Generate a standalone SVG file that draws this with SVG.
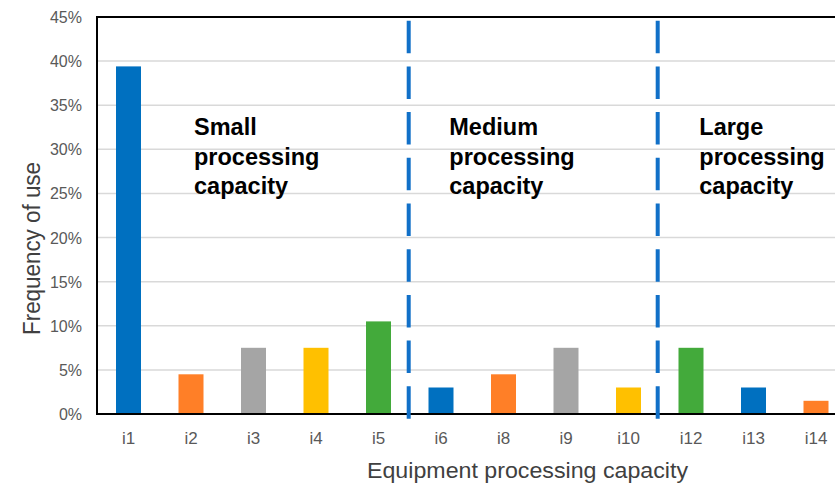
<svg xmlns="http://www.w3.org/2000/svg" width="835" height="484" viewBox="0 0 835 484">
<style>
.grid{stroke:#D9D9D9;stroke-width:1.5}
.tick{font-family:"Liberation Sans",Arial,sans-serif;font-size:16px;fill:#595959;text-anchor:end}
.cat{font-family:"Liberation Sans",Arial,sans-serif;font-size:17px;fill:#595959;text-anchor:middle}
.title{font-family:"Liberation Sans",Arial,sans-serif;fill:#404040;text-anchor:middle}
.note{font-family:"Liberation Sans",Arial,sans-serif;font-size:23.5px;font-weight:bold;fill:#000}
.sep{stroke:#1170C8;stroke-width:4;stroke-dasharray:32.5 13.2}
.blue{fill:#0070C0}.orange{fill:#FF7F27}.gray{fill:#A5A5A5}.yellow{fill:#FFC000}.green{fill:#43AA3B}
</style>
<rect width="835" height="484" fill="#fff"/>
<g id="grid">
<line class="grid" x1="97" y1="369.9" x2="835" y2="369.9"/>
<line class="grid" x1="97" y1="325.8" x2="835" y2="325.8"/>
<line class="grid" x1="97" y1="281.7" x2="835" y2="281.7"/>
<line class="grid" x1="97" y1="237.6" x2="835" y2="237.6"/>
<line class="grid" x1="97" y1="193.4" x2="835" y2="193.4"/>
<line class="grid" x1="97" y1="149.3" x2="835" y2="149.3"/>
<line class="grid" x1="97" y1="105.2" x2="835" y2="105.2"/>
<line class="grid" x1="97" y1="61.1" x2="835" y2="61.1"/>
</g>
<g id="ticks">
<text class="tick" x="82" y="420">0%</text>
<text class="tick" x="82" y="375.9">5%</text>
<text class="tick" x="82" y="331.8">10%</text>
<text class="tick" x="82" y="287.7">15%</text>
<text class="tick" x="82" y="243.6">20%</text>
<text class="tick" x="82" y="199.4">25%</text>
<text class="tick" x="82" y="155.3">30%</text>
<text class="tick" x="82" y="111.2">35%</text>
<text class="tick" x="82" y="67.1">40%</text>
<text class="tick" x="82" y="23">45%</text>
</g>
<g id="bars">
<rect class="blue" x="116" y="66.4" width="25" height="347.6"/>
<rect class="orange" x="178.5" y="374.3" width="25" height="39.7"/>
<rect class="gray" x="241" y="347.8" width="25" height="66.2"/>
<rect class="yellow" x="303.5" y="347.8" width="25" height="66.2"/>
<rect class="green" x="366" y="321.4" width="25" height="92.6"/>
<rect class="blue" x="428.5" y="387.5" width="25" height="26.5"/>
<rect class="orange" x="491" y="374.3" width="25" height="39.7"/>
<rect class="gray" x="553.5" y="347.8" width="25" height="66.2"/>
<rect class="yellow" x="616" y="387.5" width="25" height="26.5"/>
<rect class="green" x="678.5" y="347.8" width="25" height="66.2"/>
<rect class="blue" x="741" y="387.5" width="25" height="26.5"/>
<rect class="orange" x="803.5" y="400.8" width="25" height="13.2"/>
</g>
<g id="axes" stroke="#000" stroke-width="2">
<line x1="97" y1="17" x2="835" y2="17"/>
<line x1="97" y1="16" x2="97" y2="415"/>
<line x1="96" y1="414" x2="835" y2="414"/>
</g>
<g id="connectors">
<line class="sep" x1="408.7" y1="20.7" x2="408.7" y2="419"/>
<line class="sep" x1="657.7" y1="20.7" x2="657.7" y2="419"/>
</g>
<g id="categories">
<text class="cat" x="128.5" y="444">i1</text>
<text class="cat" x="191" y="444">i2</text>
<text class="cat" x="253.5" y="444">i3</text>
<text class="cat" x="316" y="444">i4</text>
<text class="cat" x="378.5" y="444">i5</text>
<text class="cat" x="441" y="444">i6</text>
<text class="cat" x="503.5" y="444">i8</text>
<text class="cat" x="566" y="444">i9</text>
<text class="cat" x="628.5" y="444">i10</text>
<text class="cat" x="691" y="444">i12</text>
<text class="cat" x="753.5" y="444">i13</text>
<text class="cat" x="816" y="444">i14</text>
</g>
<g id="axis-titles">
<text class="title" x="527.5" y="478" font-size="22" textLength="321" lengthAdjust="spacingAndGlyphs">Equipment processing capacity</text>
<text class="title" transform="translate(39.5 248.5) rotate(-90)" font-size="23" textLength="173" lengthAdjust="spacingAndGlyphs">Frequency of use</text>
</g>
<g id="small">
<text class="note" x="194" y="135">Small</text>
<text class="note" x="194" y="164.5">processing</text>
<text class="note" x="194" y="194">capacity</text>
</g>
<g id="medium">
<text class="note" x="449.3" y="135">Medium</text>
<text class="note" x="449.3" y="164.5">processing</text>
<text class="note" x="449.3" y="194">capacity</text>
</g>
<g id="large">
<text class="note" x="699.3" y="135">Large</text>
<text class="note" x="699.3" y="164.5">processing</text>
<text class="note" x="699.3" y="194">capacity</text>
</g>
</svg>
